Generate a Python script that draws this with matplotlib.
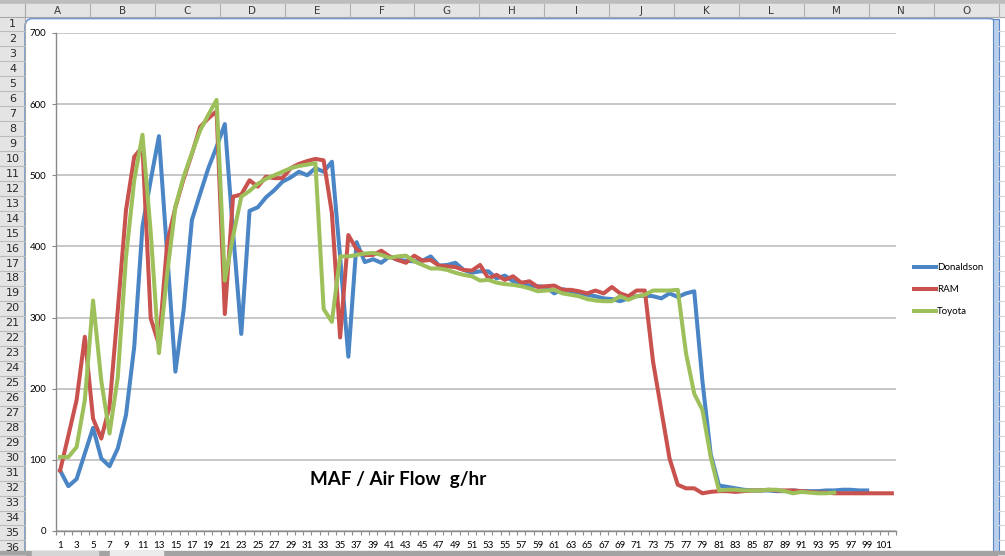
import numpy as np
import matplotlib
matplotlib.use('Agg')
import matplotlib.pyplot as plt
from matplotlib.patches import Rectangle, FancyBboxPatch

plt.rcParams['font.family'] = ['Lato', 'DejaVu Sans']

# MAF readings (g/hr), one value per sample
donaldson = [85, 63, 73, 109, 145, 102, 91, 116, 163, 259,
             428, 493, 555, 390, 224, 311, 437, 474, 510, 540,
             572, 420, 277, 450, 455, 469, 479, 491, 497, 505,
             500, 510, 505, 519, 385, 245, 406, 378, 382, 377,
             386, 381, 380, 379, 380, 386, 373, 374, 377, 367,
             363, 365, 365, 355, 359, 351, 348, 345, 344, 343,
             334, 340, 337, 335, 332, 330, 327, 326, 323, 327,
             330, 331, 330, 327, 334, 329, 334, 337, 210, 108,
             64, 62, 60, 58, 57, 57, 57, 56, 56, 57,
             56, 56, 56, 57, 57, 58, 58, 57, 57]
ram = [85, 134, 184, 273, 158, 130, 175, 310, 451, 526,
       540, 299, 262, 405, 455, 495, 530, 568, 580, 590,
       305, 470, 473, 493, 484, 498, 496, 496, 510, 516,
       520, 523, 521, 447, 272, 416, 396, 388, 388, 394,
       386, 381, 377, 387, 380, 381, 373, 372, 371, 367,
       366, 374, 355, 360, 353, 358, 349, 351, 343, 344,
       345, 339, 339, 337, 334, 338, 334, 343, 334, 330,
       338, 338, 238, 170, 102, 65, 60, 60, 53, 55,
       56, 56, 55, 56, 57, 57, 58, 57, 57, 57,
       56, 55, 54, 54, 53, 53, 53, 53, 53, 53,
       53, 53]
toyota = [104, 104, 118, 184, 324, 211, 137, 216, 385, 493,
          557, 420, 250, 362, 456, 498, 531, 563, 585, 606,
          352, 414, 470, 478, 488, 495, 500, 505, 510, 513,
          515, 517, 312, 294, 386, 386, 388, 390, 391, 388,
          384, 386, 387, 379, 374, 369, 369, 367, 363, 360,
          358, 352, 353, 349, 347, 346, 344, 341, 337, 338,
          339, 334, 332, 330, 326, 324, 323, 323, 330, 325,
          330, 332, 338, 338, 338, 339, 250, 193, 170, 104,
          57, 58, 58, 57, 57, 57, 58, 58, 56, 53,
          55, 54, 53, 53, 54]

series_names = ['Donaldson', 'RAM', 'Toyota']
series_colors = ['#4A85C5', '#C9524E', '#9DC05A']
n_cat = 102
x_labels = [str(i) for i in range(1, n_cat, 2)]
y_ticks = list(range(0, 701, 100))
col_letters = list('ABCDEFGHIJKLMNO')
row_numbers = list(range(1, 37))

fig = plt.figure(figsize=(10.05, 5.56), dpi=100)

# spreadsheet behind the chart, in pixel units
bg = fig.add_axes([0, 0, 1, 1])
bg.set_xlim(0, 1005)
bg.set_ylim(556, 0)
bg.axis('off')
bg.add_patch(Rectangle((0, 0), 1005, 4, color='#bdbdbd'))
bg.add_patch(Rectangle((0, 4), 1005, 13, color='#e4e4e4'))
bg.add_patch(Rectangle((0, 17), 25, 539, color='#e4e4e4'))
bg.plot([0, 1005], [16.5, 16.5], color='#a8a8a8', lw=0.8)
bg.plot([25, 25], [4, 556], color='#a8a8a8', lw=0.8)

col_w = 64.9
for i, letter in enumerate(col_letters):
    left = 25 + i * col_w
    bg.plot([left + col_w] * 2, [4, 16.5], color='#b0b0b0', lw=0.8)
    bg.text(left + col_w / 2, 10.5, letter, ha='center', va='center',
            fontsize=7.5, color='#3a3a3a', family='DejaVu Sans')

row_h = 14.97
for k in row_numbers:
    yc = 24 + (k - 1) * row_h
    bg.plot([0, 25], [yc + row_h / 2] * 2, color='#bcbcbc', lw=0.8)
    bg.plot([998, 1005], [yc + row_h / 2] * 2, color='#dadada', lw=0.8)
    bg.text(12.5, yc, str(k), ha='center', va='center', fontsize=8,
            color='#2a2a2a', family='DejaVu Sans')

# chart area frame
bg.add_patch(FancyBboxPatch((25, 18.5), 972, 560,
                            boxstyle='round,pad=0,rounding_size=8',
                            fc='white', ec='#6f97d2', lw=1.2))
bg.add_patch(Rectangle((993, 19), 6, 540, fc='#b9cfec', ec='#5b85c5', lw=0.8))
bg.add_patch(Rectangle((0, 551), 1005, 5, color='#a3a3a3'))
bg.add_patch(Rectangle((32, 551), 66, 5, color='#d6d6d6'))
bg.add_patch(Rectangle((110, 551), 53, 5, color='#ececec'))

# plot area
ax = fig.add_axes([56 / 1005, 25 / 556, 840 / 1005, 498 / 556])
ax.set_facecolor('none')

for name, vals, color in zip(series_names, [donaldson, ram, toyota], series_colors):
    x = np.arange(1, len(vals) + 1)
    ax.plot(x, vals, color=color, lw=2.9, label=name, solid_joinstyle='round')

ax.set_xlim(0.5, n_cat + 0.5)
ax.set_ylim(0, 700)
ax.set_yticks(y_ticks)
ax.set_xticks(np.arange(1, n_cat, 2))
ax.set_xticklabels(x_labels)
ax.set_xticks(np.arange(0.5, n_cat + 1, 1), minor=True)
ax.tick_params(axis='x', which='major', length=0, pad=7, labelsize=7)
ax.tick_params(axis='x', which='minor', length=3, color='#8a8a8a', width=0.8)
ax.tick_params(axis='y', which='major', length=3, color='#8a8a8a', width=0.8,
               pad=4, labelsize=7)
ax.grid(axis='y', color='#b8b8b8', lw=1.1)
ax.set_axisbelow(True)
for side in ['top', 'right']:
    ax.spines[side].set_visible(False)
for side in ['left', 'bottom']:
    ax.spines[side].set_color('#8a8a8a')
    ax.spines[side].set_linewidth(1)

fig.legend(loc='upper left', bbox_to_anchor=(914 / 1005, 1 - 263 / 556),
           frameon=False, fontsize=7, handlelength=2.3, handletextpad=0.1,
           labelspacing=1.35, borderpad=0, borderaxespad=0)

fig.text(310 / 1005, 1 - 480 / 556, 'MAF / Air Flow  g/hr', fontsize=13.6,
         fontweight='bold', va='center', ha='left')

fig.savefig('out.png', dpi=100)
